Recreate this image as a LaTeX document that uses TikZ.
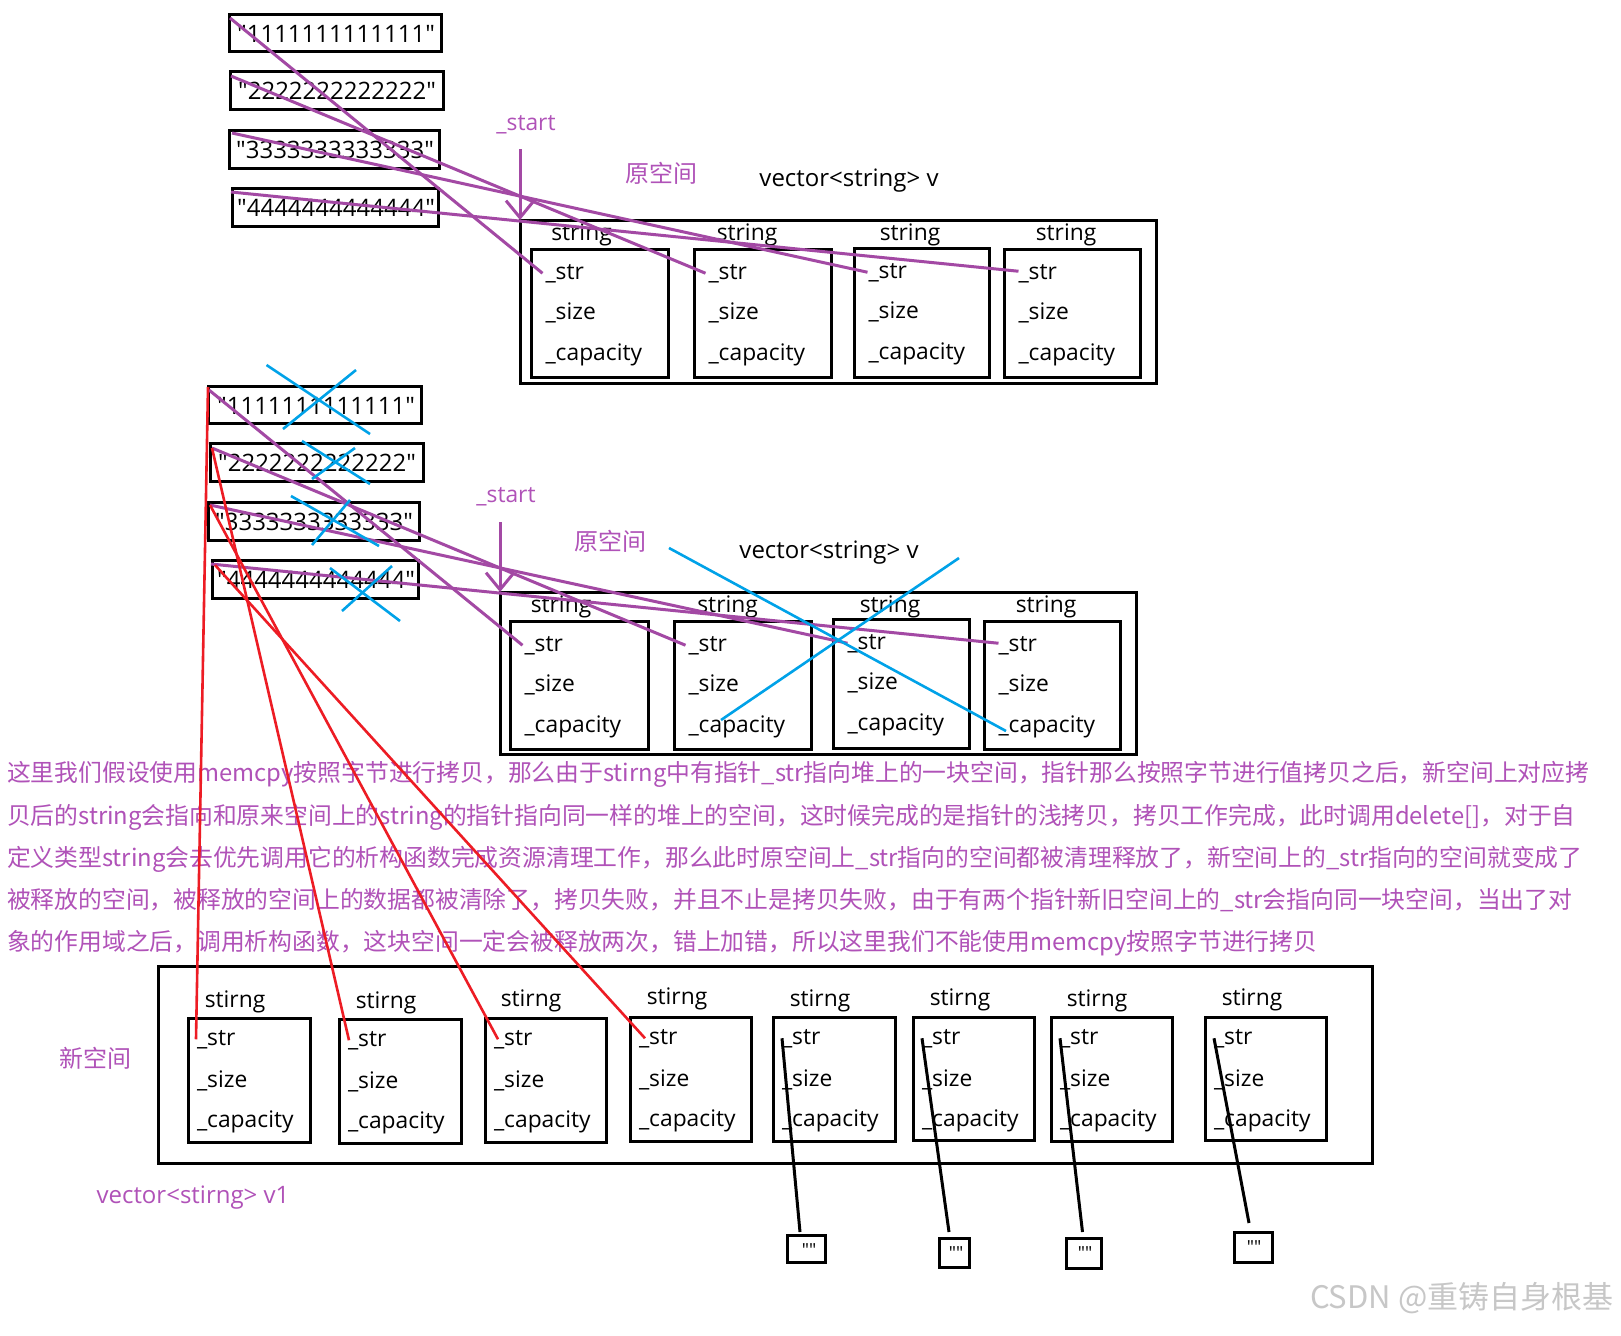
\documentclass[tikz,border=0pt]{standalone}
\usepackage{fontspec}
\setmainfont{Open Sans}[Ligatures=TeXOff]
\newfontfamily\cjk{Noto Sans CJK SC}[Ligatures=TeXOff]
\usetikzlibrary{arrows.meta,calc,fit}
\definecolor{ppl}{HTML}{A349A4}
\definecolor{ptx}{HTML}{B052B8}
\definecolor{bl}{HTML}{00A2E8}
\definecolor{rd}{HTML}{ED1C24}
\newcommand\fs{\fontsize{12pt}{14pt}\selectfont}
\newcommand\fsl{\fontsize{11.4pt}{14pt}\selectfont}
\newcommand\fsc{\cjk\fontsize{11.9pt}{14pt}\selectfont}
\newcommand\fsk{\cjk\fontsize{12pt}{14pt}\selectfont}
\newcommand\fsq{\fontsize{9pt}{10pt}\selectfont}
\newcommand\fsw{\cjk\fontsize{15.5pt}{17pt}\selectfont}
\begin{document}
\begin{tikzpicture}[x=0.5pt,y=-0.5pt,
  every node/.style={inner sep=0pt, outer sep=0pt},
  box/.style={draw=black, line width=1.5pt, fit={#1}},
  lbl/.style={font=\fsl, anchor=base},
  fld/.style={font=\fsl, anchor=base west},
  num/.style={font=\fs, anchor=base},
  pline/.style={ppl, line width=1.5pt},
  parrow/.style={ppl, line width=1.5pt, -{Straight Barb[length=8.5pt,width=14pt]}},
  rline/.style={rd, line width=1.3pt},
  bline/.style={bl, line width=1.3pt},
  kline/.style={black, line width=1.5pt},
]
\fill[white] (0,0) rectangle (1621,1335);
\useasboundingbox (0,0) rectangle (1621,1335);

% ---------- top group ----------
\node[box={(229,14) (441,51)}] (a1) {};
\node[box={(230,71) (443,109)}] (a2) {};
\node[box={(229,130) (439,168)}] (a3) {};
\node[box={(232,188) (438,226)}] (a4) {};
\node[num] (a1t) at (336,42) {"1111111111111"};
\node[num] (a2t) at (337,99) {"2222222222222"};
\node[num] (a3t) at (335,158) {"3333333333333"};
\node[num] (a4t) at (336,216) {"4444444444444"};

\node[lbl, text=ptx] (st1) at (526,130) {\_start};
\node[lbl, text=ptx, font=\fsk] (yk1) at (661,182) {原空间};
\node[lbl, font=\fs] (vv1) at (849,186) {vector<string> v};
\node[box={(520,220) (1156,383)}] (ov1) {};
\node[lbl] (sl1) at (581.5,240) {string};
\node[lbl] (sl2) at (747,240) {string};
\node[lbl] (sl3) at (910,240) {string};
\node[lbl] (sl4) at (1066,240) {string};

% ---------- middle group ----------
\node[box={(208,386) (421,423)}] (b1) {};
\node[box={(210,443) (423,481)}] (b2) {};
\node[box={(208,502) (419,540)}] (b3) {};
\node[box={(212,560) (418,598)}] (b4) {};
\node[num] (b1t) at (316,414) {"1111111111111"};
\node[num] (b2t) at (317,471) {"2222222222222"};
\node[num] (b3t) at (314,530) {"3333333333333"};
\node[num] (b4t) at (316,588) {"4444444444444"};

\node[lbl, text=ptx] (st2) at (506,502) {\_start};
\node[lbl, text=ptx, font=\fsk] (yk2) at (610,550) {原空间};
\node[lbl, font=\fs] (vv2) at (829,558) {vector<string> v};
\node[box={(500,592) (1136,754)}] (ov2) {};
\node[lbl] (ml1) at (561,612) {string};
\node[lbl] (ml2) at (727.6,612) {string};
\node[lbl] (ml3) at (890,612) {string};
\node[lbl] (ml4) at (1046,612) {string};

\foreach \n/\L/\T/\R/\B in {t1/531/249/668/377, t2/694/249/831/377, t3/854/248/989/377, t4/1004/249/1140/377,
                            m1/510/621/648/749, m2/674/621/811/749, m3/833/619/969/748, m4/984/621/1120/749}{
  \node[box={(\L,\T) (\R,\B)}] (\n) {};
  \node[fld] (\n-str) at ({\L+14.5},{\T+30}) {\_str};
  \node[fld] (\n-siz) at ({\L+14.5},{\T+70}) {\_size};
  \node[fld] (\n-cap) at ({\L+14.5},{\T+111}) {\_capacity};
}

% ---------- paragraph ----------
\node[font=\fsc, text=ptx, anchor=base west] (p1) at (7,781) {这里我们假设使用memcpy按照字节进行拷贝，那么由于stirng中有指针\_str指向堆上的一块空间，指针那么按照字节进行值拷贝之后，新空间上对应拷};
\node[font=\fsc, text=ptx, anchor=base west] (p2) at (7,824) {贝后的string会指向和原来空间上的string的指针指向同一样的堆上的空间，这时候完成的是指针的浅拷贝，拷贝工作完成，此时调用delete[]，对于自};
\node[font=\fsc, text=ptx, anchor=base west] (p3) at (7,866) {定义类型string会去优先调用它的析构函数完成资源清理工作，那么此时原空间上\_str指向的空间都被清理释放了，新空间上的\_str指向的空间就变成了};
\node[font=\fsc, text=ptx, anchor=base west] (p4) at (7,908) {被释放的空间，被释放的空间上的数据都被清除了，拷贝失败，并且不止是拷贝失败，由于有两个指针新旧空间上的\_str会指向同一块空间，当出了对};
\node[font=\fsc, text=ptx, anchor=base west] (p5) at (7,950) {象的作用域之后，调用析构函数，这块空间一定会被释放两次，错上加错，所以这里我们不能使用memcpy按照字节进行拷贝};

% ---------- bottom group ----------
\node[box={(158,966) (1372,1163)}] (ov3) {};
\node[lbl, text=ptx, font=\fsk] (xk) at (95,1067) {新空间};
\node[lbl, text=ptx, font=\fs] (vv3) at (193,1203) {vector<stirng> v1};

\foreach \n/\L/\T/\R/\B/\cx/\by in {n1/188/1018/310/1142/235/1007, n2/339/1019/461/1143/386/1008,
    n3/485/1018/606/1142/531/1006, n4/630/1017/751/1141/677/1004, n5/773/1017/895/1141/820/1006,
    n6/913/1017/1034/1140/960/1005, n7/1051/1017/1172/1141/1097/1006, n8/1205/1017/1326/1140/1252/1005}{
  \node[lbl] (\n-lab) at (\cx,\by) {stirng};
  \node[box={(\L,\T) (\R,\B)}] (\n) {};
  \node[fld] (\n-str) at ({\L+9},{\T+27}) {\_str};
  \node[fld] (\n-siz) at ({\L+9},{\T+69}) {\_size};
  \node[fld] (\n-cap) at ({\L+9},{\T+109}) {\_capacity};
}

\node[box={(787,1235) (825,1262)}] (e5) {};
\node[box={(939,1238) (969,1267)}] (e6) {};
\node[box={(1066,1238) (1101,1268)}] (e7) {};
\node[box={(1234,1232) (1272,1262)}] (e8) {};
\node[font=\fsq, anchor=base] (e5t) at (809,1256) {""};
\node[font=\fsq, anchor=base] (e6t) at (956,1259) {""};
\node[font=\fsq, anchor=base] (e7t) at (1085,1259) {""};
\node[font=\fsq, anchor=base] (e8t) at (1254,1253) {""};

\node[font=\fsw, text=black!22, anchor=base west] (wm) at (1310,1308) {CSDN @重铸自身根基};

% ---------- connectors ----------
\draw[kline] (n5-str.west) -- ($(e5.north)+(-6,-3)$);
\draw[kline] (n6-str.west) -- ($(e6.north)+(-5,-6)$);
\draw[kline] (n7-str.west) -- ($(e7.north)+(-1,-6)$);
\draw[kline] (n8-str.west) -- ($(e8.north)+(-4,-9)$);

\draw[parrow] ($(ov1.north west)+(0,-71)$) -- (ov1.north west);
\draw[parrow] ($(ov2.north west)+(0,-70)$) -- (ov2.north west);

\draw[pline] ($(a1.north west)+(1,4)$) -- ($(t1-str.west)+(-3,0)$);
\draw[pline] ($(a2.north west)+(1,5)$) -- ($(t2-str.west)+(-3,0)$);
\draw[pline] ($(a3.north west)+(3,3)$) -- ($(t3-str.west)+(-1,0)$);
\draw[pline] ($(a4.north west)+(-1,4)$) -- ($(t4-str.west)+(0,-2)$);

\draw[pline] ($(b1.north west)+(1,4)$) -- ($(m1-str.west)+(-2,0)$);
\draw[pline] ($(b2.north west)+(2,5)$) -- ($(m2-str.west)+(-3,0)$);
\draw[pline] ($(b3.north west)+(2,3)$) -- ($(m3-str.west)+(0,0)$);
\draw[pline] ($(b4.north west)+(-1,4)$) -- ($(m4-str.west)+(0,-2)$);

\draw[rline] ($(b1.north west)+(0,1)$) -- ($(n1-str.west)+(-1,0)$);
\draw[rline] ($(b2.north west)+(2,5)$) -- ($(n2-str.west)+(1,0)$);
\draw[rline] ($(b3.north west)+(2,3)$) -- ($(n3-str.west)+(4,0)$);
\draw[rline] ($(b4.north west)+(3,5)$) -- ($(n4-str.west)+(6,0)$);

% ---------- blue cross-outs ----------
\draw[bline] (266.5,365) -- (370,434);
\draw[bline] (356,370) -- (283,429);
\draw[bline] (302,441) -- (370,484);
\draw[bline] (355,448) -- (312,479);
\draw[bline] (291,496) -- (379,546);
\draw[bline] (350,500) -- (312,545);
\draw[bline] (330,568) -- (400,621);
\draw[bline] (392,566) -- (342,611);
\draw[bline] (669,548) -- (1006,731);
\draw[bline] (959,558) -- (721,720);
\end{tikzpicture}
\end{document}
